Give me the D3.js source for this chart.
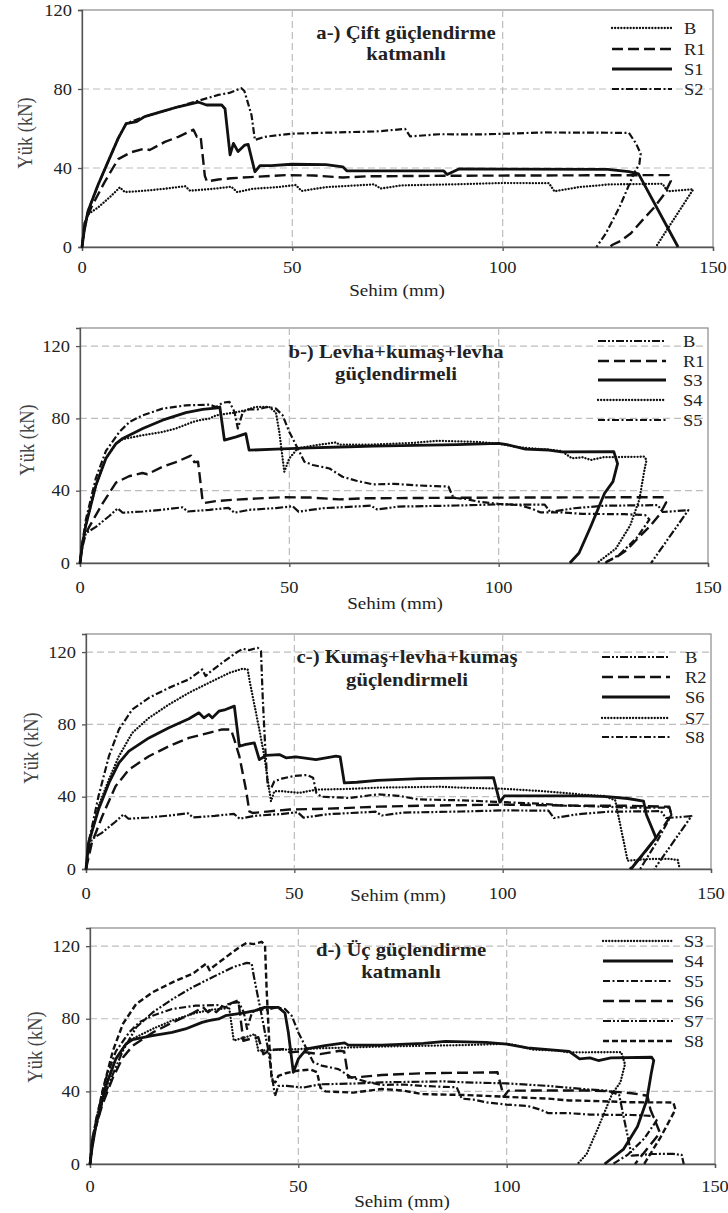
<!DOCTYPE html>
<html><head><meta charset="utf-8">
<script src="https://cdn.jsdelivr.net/npm/d3@7"></script>
<style>body{margin:0;background:#fff} text{font-family:"Liberation Serif","Times New Roman",Tinos,serif;}</style>
</head><body><svg id="c" width="728" height="1213"></svg>
<script>
// ---------- data ----------
const xTicks=[0,50,100,150];
const yTicks=[0,40,80,120];
const xLabel="Sehim (mm)";
const yLabel="Yük (kN)";

const B=[[0,0],[0.5,8],[1.4,16.5],[3.8,20],[7,26],[9,30.2],[10.2,27.8],[15,28.5],[19.7,29.5],[24.5,30.8],[25.7,28.5],[30.9,29.4],[35.5,30.5],[36.9,27.8],[40.4,29.4],[46.8,30.4],[50.8,31.4],[52.2,28.4],[58,30.3],[69.5,31.7],[71,29.6],[76,31.2],[90,31.8],[100,32.4],[111,32.3],[112.3,28.2],[118,30.3],[125.4,31.7],[138,32],[139.2,28.2],[145.3,29.2],[136.4,0]];
const R1=[[0,0],[0.6,12],[2.2,20],[5.4,33],[8.6,44.5],[11.7,48],[14.9,49.8],[16.1,49.1],[19.7,53.2],[22.9,55.8],[26.5,59.4],[27.3,55.8],[28.2,56],[29.2,36],[29.7,33.2],[32.4,34.2],[35.5,34.8],[40,35.4],[48.4,36.4],[55,36.2],[62,35.2],[68,35.8],[90,36.1],[120,36.3],[139.5,36.4],[140,33.5],[138.5,27],[136,20],[133.4,14],[130.5,7],[128,3],[126,1],[125.5,0]];
const S1=[[0,0],[0.5,8],[1.4,18],[3.8,31.4],[6.2,43.2],[8.6,55],[10.5,62.5],[13,63.5],[14.9,66],[18.9,68.5],[22.9,71],[27.6,73.4],[29.6,71.9],[33.2,71.9],[34,70],[35.2,46.6],[36,52.5],[37.1,48.3],[38.7,51.6],[39.5,52],[41.1,38.1],[42.3,41.2],[45,41.2],[49.8,41.9],[58,41.7],[62,40.6],[63,38.5],[86,38.5],[86.8,36.7],[89.6,39.5],[125,39.3],[130,38.2],[132.3,37],[141.7,0]];
const S2=[[0,0],[0.5,8],[1.4,18],[3.8,31.4],[6.2,43.2],[8.6,55],[10.5,62.5],[14.9,66],[18.9,68.5],[22.9,71],[27.6,74],[32.4,77],[35,78],[37.9,80.4],[38.6,79],[40.3,66.8],[41.1,54.2],[43.5,55.8],[49.8,57.4],[60.2,58],[70,58.5],[76.8,59.8],[78,56],[85,57.1],[95,57],[110,58],[130,57.8],[131.7,52.4],[132.8,47.3],[132.5,42],[131.2,37.2],[127.8,20.3],[124.5,6.8],[122.3,0]];

const S3=[[0,0],[0.5,9],[1.4,21],[3.8,43],[6.2,57.9],[8.6,66.1],[10.2,68.9],[15,74.4],[19.7,79],[25.3,83.2],[29.3,85],[32.9,85.8],[33.4,86.3],[34.5,68],[37.3,69.8],[39.6,71.6],[40.4,62.4],[46.8,63],[54.8,63.7],[64.3,64.3],[70,64.7],[90,65.5],[100,66.2],[102,65.5],[106.4,63],[112,62.5],[115,61.5],[127.5,61.6],[128.4,55],[127.3,45],[125.3,38.6],[122,20.2],[119.2,5.5],[117,0]];
const S4=[[0,0],[0.5,9],[1.4,21],[3.8,43],[6.2,57.9],[8.6,66],[10.2,68.5],[15,70.7],[19.7,72.5],[22.9,74.4],[26.9,78],[28.5,79],[30.9,79.9],[32.5,81.7],[36.9,83.2],[39.6,84.5],[41.9,86.3],[45.2,86.3],[46.8,83.2],[47.6,72.5],[48.8,50.5],[50,57.9],[52,63.4],[56.4,65.2],[61.1,66.7],[62,65.5],[70,65.5],[80,66.5],[85.3,67.6],[95,67],[100,66],[105,64],[110,63],[115,62],[117.5,57.9],[120,58.5],[122,57],[125,58.5],[134.8,58.8],[135.3,57],[134.7,50],[133.6,35],[131.4,20.7],[128,8],[123.5,0]];
const S5=[[0,0],[0.5,10],[1.4,24],[3.8,47],[6.2,62],[9.4,72.5],[11.8,78],[15,81.7],[19.7,85.4],[25.3,87.2],[30.9,87.6],[32.5,86.3],[34.1,88.7],[35.7,89.1],[36.9,83.6],[37.7,74.4],[38.9,83.6],[40.4,85],[42.4,85],[44.8,86.3],[46.8,85.4],[48.4,81.7],[50,72.5],[51.6,65.2],[53.6,56],[55.6,54.2],[59.6,52.3],[62.7,47.7],[66,45.5],[70,43.5],[75,43.8],[80,43],[85,42.5],[88,42.3],[89.2,36],[92,35.5],[95,34],[100,32.7],[105,32],[108,30],[110,28],[115,28],[120,27.2],[130,27],[135,26.5],[136,24],[133,14],[129,5],[125.5,0]];

const R2=[[0,0],[1.4,14.4],[3.9,29.2],[7.1,45.8],[10.3,55],[15.1,62.4],[19.9,67.9],[24.7,72.5],[29.5,75.3],[32.7,77.2],[34.8,77.2],[35.6,71.6],[36.8,62.4],[38.4,43.9],[39.2,31.9],[40,31],[44,31.9],[48.8,32.9],[55.2,33.2],[63.2,33.8],[70,34.5],[80,35],[100,35.6],[120,35],[130,35],[140,34.4],[140.5,30],[137,18],[133,6],[130.5,0]];
const S6=[[0,0],[0.6,14.4],[3,32.9],[5.5,47.6],[7.9,58.7],[10.3,65.2],[15.1,72.5],[19.9,78.1],[24.7,83.1],[27.1,86.4],[28.3,83.6],[29.5,85.5],[30.3,83.6],[31.9,87.3],[33.5,88.2],[35.6,90.1],[36.8,67.9],[38.4,68.9],[40.4,69.8],[41.6,60.5],[43.2,62.8],[46.4,63.3],[48,61.5],[50.4,62],[55.2,60.5],[60,62.4],[61,62],[62,47.6],[65,48],[70,49],[80,50],[97.8,50.5],[99.3,37],[100.4,40.4],[110,40.5],[120,40.5],[125,40],[130,39],[133.8,37.6],[134.5,30],[136.8,17.2],[130.8,0]];
const S7=[[0,0],[0.6,12.6],[3,34.7],[5.5,49.5],[7.9,62.4],[11.1,75.3],[15.1,83.6],[19.9,91],[24.7,97.5],[29.5,103],[34.4,108.5],[37.6,110.8],[38.8,110.4],[39.2,104.9],[40,95.6],[41.6,77.2],[42.8,62.4],[43.6,49.5],[44.4,37.5],[45.2,43],[47.2,43],[51.2,42.1],[55.2,43.9],[63.2,44.3],[70,45],[85,45.5],[90,45],[100,44.4],[110,43],[120,41],[124.3,40.4],[127,38],[130,4.6],[135,5.5],[140,5.6],[142,5],[142.5,0]];
const S8=[[0,0],[0.6,14.4],[3,40.2],[5.5,62.4],[7.9,77.2],[11.1,88.2],[15.1,94.7],[19.9,100.2],[24.7,104.9],[27.9,110.4],[28.7,106.7],[29.5,108.5],[32.7,114.1],[36,119.6],[37.6,121.8],[39.2,121.1],[41.2,122.4],[42,120.5],[42.4,95.6],[43,67.9],[43.6,46],[44.5,45],[45.2,48.5],[47,50],[50,51.5],[53,52],[54.5,50.5],[55.3,42],[56.5,40],[63.2,39.3],[70,41.3],[75,40.5],[79.7,38.5],[90,38],[100,37],[110,36],[115,35],[120,34.8],[130,34],[140,33.9],[140.5,30],[137,15],[133,0]];

// ---------- styles ----------
const styles={
  solid:{w:2.8,dash:null},
  dot:{w:2.3,dash:"0.1,3",cap:"round"},
  dash:{w:2.4,dash:"11,5"},
  sdash:{w:2.4,dash:"6,3"},
  dashdot:{w:2.2,dash:"7,2.5,2,2.5"},
  dashdot2:{w:2.2,dash:"8,2,2,2,2,2"}
};

const panels=[
 {box:[82,713,10,247],ymax:120,title:["a-) Çift güçlendirme","katmanlı"],tx:406,ty:[39,60],
  leg:{x1:612,x2:672,lx:684,rows:[28,49,69,89]},tickY:273,labX:397,labY:296,yl:[25,133],
  series:[["B",B,"dot"],["R1",R1,"dash"],["S1",S1,"solid"],["S2",S2,"dashdot"]]},
 {box:[80,708,328,563],ymax:130,title:["b-) Levha+kumaş+levha","güçlendirmeli"],tx:396,ty:[358,380],
  leg:{x1:598,x2:666,lx:683,rows:[341,361,380,400,420]},tickY:593,labX:395,labY:609,yl:[27,440],
  series:[["B",B,"dashdot2"],["R1",R1,"dash"],["S3",S3,"solid"],["S4",S4,"dot"],["S5",S5,"dashdot"]]},
 {box:[86,711,634,869],ymax:130,title:["c-) Kumaş+levha+kumaş","güçlendirmeli"],tx:407,ty:[663,686],
  leg:{x1:602,x2:670,lx:685,rows:[657,677,697,718,737]},tickY:899,labX:398,labY:901,yl:[31,748],
  series:[["B",B,"dashdot2"],["R2",R2,"dash"],["S6",S6,"solid"],["S7",S7,"dot"],["S8",S8,"dashdot"]]},
 {box:[90,715,928,1164],ymax:130,title:["d-) Üç güçlendirme","katmanlı"],tx:401,ty:[956,978],
  leg:{x1:603,x2:673,lx:684,rows:[941,961,981,1001,1021,1041]},tickY:1192,labX:402,labY:1207,yl:[35,1047],
  series:[["S3",S3,"dot"],["S4",S4,"solid"],["S5",S5,"dashdot"],["S6",S6,"dash"],["S7",S7,"dashdot2"],["S8",S8,"sdash"]]}
];

const svg=d3.select("#c");
const SX=1.12;
function txt(g,x,y,s,o={}){
  return g.append("text").attr("transform",`translate(${x},${y}) scale(${SX},1)`+(o.rot?" rotate(-90)":""))
   .attr("text-anchor",o.anchor||"middle").attr("dy",o.rot?"0.35em":null)
   .style("font-size",(o.size||16)+"px").style("font-weight",o.bold?"bold":"normal").attr("fill",o.fill||"#222").text(s);
}
function applyStyle(sel,st){
  sel.attr("stroke","#111").attr("stroke-width",st.w).attr("fill","none").attr("stroke-linejoin","round");
  if(st.dash) sel.attr("stroke-dasharray",st.dash);
  if(st.cap) sel.attr("stroke-linecap",st.cap);
}

panels.forEach(p=>{
  const [l,r,t,b]=p.box;
  const x=d3.scaleLinear().domain([0,150]).range([l,r]);
  const y=d3.scaleLinear().domain([0,p.ymax]).range([b,t]);
  const g=svg.append("g");
  g.append("rect").attr("x",l).attr("y",t).attr("width",r-l).attr("height",b-t).attr("fill","none").attr("stroke","#8a8a8a").attr("stroke-width",1.2);
  yTicks.filter(v=>v>0&&v<=p.ymax&&v!==p.ymax).forEach(v=>{
    g.append("line").attr("x1",l).attr("x2",r).attr("y1",y(v)).attr("y2",y(v)).attr("stroke","#bdbdbd").attr("stroke-width",1.2).attr("stroke-dasharray","7,4");
  });
  xTicks.filter(v=>v>0&&v<150).forEach(v=>{
    g.append("line").attr("y1",t).attr("y2",b).attr("x1",x(v)).attr("x2",x(v)).attr("stroke","#bdbdbd").attr("stroke-width",1.2).attr("stroke-dasharray","7,4");
  });
  const ya=g.append("g").attr("transform",`translate(${l},0)`).call(d3.axisLeft(y).tickValues(yTicks).tickSize(4).tickFormat(""));
  const xa=g.append("g").attr("transform",`translate(0,${b})`).call(d3.axisBottom(x).tickValues(xTicks).tickSize(4).tickFormat(""));
  [ya,xa].forEach(a=>{a.selectAll("path,line").attr("stroke","#555").attr("stroke-width",1.3);});
  yTicks.forEach(v=>txt(g,l-10,y(v)+5.5,String(v),{anchor:"end",size:16.5}));
  xTicks.forEach(v=>txt(g,x(v),p.tickY,String(v),{size:16.5}));
  txt(g,p.labX,p.labY,xLabel,{size:17});
  txt(g,p.yl[0],p.yl[1],yLabel,{size:18.5,rot:true,fill:"#444"});
  p.title.forEach((s,i)=>txt(g,p.tx,p.ty[i],s,{size:18.5,bold:true}));
  const line=d3.line().x(d=>x(d[0])).y(d=>y(d[1]));
  p.series.forEach(([name,data,sty])=>{
    applyStyle(g.append("path").datum(data).attr("d",line),styles[sty]);
  });
  p.series.forEach(([name,data,sty],i)=>{
    const ry=p.leg.rows[i];
    applyStyle(g.append("line").attr("x1",p.leg.x1).attr("x2",p.leg.x2).attr("y1",ry).attr("y2",ry),styles[sty]);
    txt(g,p.leg.lx,ry+5.5,name,{anchor:"start",size:16.5});
  });
});
</script></body></html>
